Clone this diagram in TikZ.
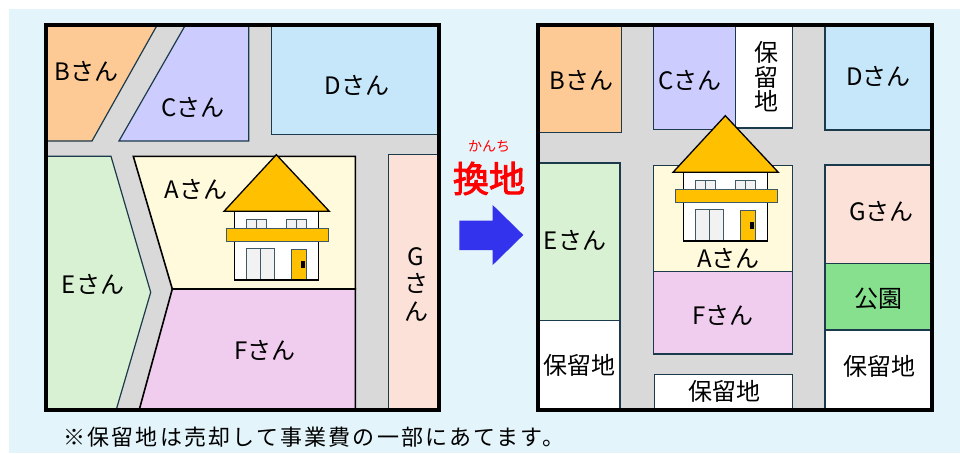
\documentclass[tikz,border=0pt]{standalone}
\usepackage{fontspec}
\setmainfont{Noto Sans CJK JP}
\newfontfamily\heavyjp{Noto Sans CJK JP}[FakeBold=2.5]
\newfontfamily\notejp{Noto Sans CJK JP}[LetterSpace=10]

\definecolor{panel}{HTML}{E3F4FB}
\definecolor{road}{HTML}{D9D9D9}
\definecolor{lotline}{HTML}{1B3A4B}
\definecolor{lotB}{HTML}{FDCA96}
\definecolor{lotC}{HTML}{CCCCFF}
\definecolor{lotD}{HTML}{C6E7F9}
\definecolor{lotE}{HTML}{D9F1D3}
\definecolor{lotA}{HTML}{FFFADC}
\definecolor{lotF}{HTML}{F0CCEE}
\definecolor{lotG}{HTML}{FCE1D8}
\definecolor{park}{HTML}{86E08E}
\definecolor{roof}{HTML}{FFC000}
\definecolor{winfill}{HTML}{F2F2F2}
\definecolor{winline}{HTML}{3F5A66}
\definecolor{arrowblue}{HTML}{3333EE}

\tikzset{
  lot/.style={draw=lotline,line width=1.2pt},
  ownlot/.style={draw=black,line width=1.6pt},
  mapframe/.style={draw=black,line width=4pt},
  lbl/.style={inner sep=0pt,font=\fontsize{24}{26}\selectfont},
  vlbl/.style={lbl,align=center,font=\fontsize{24}{24.5}\selectfont},
  housepart/.style={draw=black,line width=1.3pt},
  winpart/.style={draw=winline,line width=1pt,fill=winfill},
}

% a two-storey house, drawn at an offset
\newcommand\drawhouse[2]{%
  \begin{scope}[shift={(#1,#2)}]
    \filldraw[housepart,fill=white] (234.3,211.3) rectangle (318.7,280);
    \filldraw[housepart,fill=roof] (224,211.3) -- (276.3,154.7) -- (329.3,211.3) -- cycle;
    \filldraw[winpart] (246.7,219.3) rectangle (266.7,229.3);
    \draw[draw=winline,line width=1pt] (256.7,219.3) -- (256.7,229.3);
    \filldraw[winpart] (286.7,219.3) rectangle (306.7,229.3);
    \draw[draw=winline,line width=1pt] (296.7,219.3) -- (296.7,229.3);
    \filldraw[draw=winline,line width=1pt,fill=roof] (226.3,228.7) rectangle (328.7,241.7);
    \filldraw[winpart] (246.7,248.7) rectangle (274,280);
    \draw[draw=winline,line width=1pt] (260.3,248.7) -- (260.3,280);
    \filldraw[draw=winline,line width=1pt,fill=roof] (291.3,249) rectangle (306.3,280);
    \fill[black] (301,260.7) rectangle (305,268.3);
    \draw[housepart,fill=none] (234.3,241.7) -- (234.3,280) -- (318.7,280) -- (318.7,241.7);
  \end{scope}}

\begin{document}
\begin{tikzpicture}[x=1pt,y=-1pt]
\useasboundingbox (0,0) rectangle (960,453);
\fill[panel] (9,9) rectangle (960,453);

% ---------- before: original lots ----------
\fill[road] (45.5,24.5) rectangle (438.5,409.5);
\filldraw[lot,fill=lotB] (45.5,24.5) -- (157.5,24.5) -- (92,141) -- (45.5,141) -- cycle;
\filldraw[lot,fill=lotC] (185.7,24.5) -- (248.7,24.5) -- (248.7,141) -- (119,141) -- cycle;
\filldraw[lot,fill=lotD] (271.7,24.5) rectangle (438.5,134.3);
\filldraw[lot,fill=lotE] (45.5,156.3) -- (111,156.3) -- (150.7,292.3) -- (116.3,409.5) -- (45.5,409.5) -- cycle;
\filldraw[lot,fill=lotG] (388.3,154.7) rectangle (438.5,409.5);
\filldraw[ownlot,fill=lotA] (133.3,156.3) -- (355.3,156.3) -- (355.3,289) -- (172.3,289) -- cycle;
\filldraw[ownlot,fill=lotF] (172.3,289) -- (355.3,289) -- (355.3,409.5) -- (139.3,409.5) -- cycle;
\drawhouse{0}{0}
\draw[mapframe] (45.5,24.5) rectangle (438.5,409.5);

\node[lbl] (bL) at (86.7,71) {Bさん};
\node[lbl] (cL) at (193,107) {Cさん};
\node[lbl] (dL) at (357,85) {Dさん};
\node[lbl] (aL) at (196,189) {Aさん};
\node[lbl] (eL) at (93,284.7) {Eさん};
\node[lbl] (fL) at (265,350) {Fさん};
\node[lbl,align=center,font=\fontsize{24}{27.5}\selectfont] (gL) at (416,284) {G\\さ\\ん};

% ---------- replotting ----------
\node[inner sep=0pt,text=red,font=\fontsize{14}{14}\selectfont] (kana) at (489,146) {かんち};
\node[inner sep=0pt,text=red,font=\heavyjp\fontsize{36}{36}\selectfont] (kanchi) at (489,178.5) {換地};
\fill[arrowblue] (459.3,220.7) -- (492.7,220.7) -- (492.7,205) -- (523.3,235)
  -- (492.7,265) -- (492.7,250) -- (459.3,250) -- cycle;

% ---------- after: new lots ----------
\fill[road] (538,25) rectangle (931.5,409.5);
\filldraw[lot,fill=lotB] (538,25) rectangle (621.7,132.3);
\filldraw[lot,fill=lotC] (653.3,25) rectangle (735.7,129.3);
\filldraw[lot,fill=white] (735.7,25) rectangle (792.7,128);
\filldraw[lot,fill=lotD] (825,25) rectangle (931.5,130);
\filldraw[lot,fill=lotE] (538,163) rectangle (620,320.3);
\filldraw[lot,fill=white] (538,320.3) rectangle (620,409.5);
\filldraw[lot,fill=lotA] (653.3,165.7) rectangle (792.7,271.7);
\filldraw[lot,fill=lotF] (653.3,271.7) rectangle (792.7,354);
\filldraw[lot,fill=white] (654.3,374.3) rectangle (792.7,409.5);
\filldraw[lot,fill=lotG] (825,165) rectangle (931.5,263.3);
\filldraw[lot,fill=park] (825,263.3) rectangle (931.5,330);
\filldraw[lot,fill=white] (825,330) rectangle (931.5,409.5);
\drawhouse{449}{-39}
\draw[mapframe] (538,25) rectangle (931.5,409.5);

\node[lbl] (bR) at (581.7,80) {Bさん};
\node[lbl] (cR) at (690,80) {Cさん};
\node[vlbl] (r1) at (766.7,77) {保\\留\\地};
\node[lbl] (dR) at (878.3,76.7) {Dさん};
\node[lbl] (eR) at (575,240) {Eさん};
\node[lbl] (aR) at (728.3,258) {Aさん};
\node[lbl] (fR) at (723.3,315) {Fさん};
\node[lbl] (gR) at (881.7,211.7) {Gさん};
\node[lbl] (parkR) at (878.3,298.3) {公園};
\node[lbl] (r2) at (579.3,365) {保留地};
\node[lbl] (r3) at (724,391.7) {保留地};
\node[lbl] (r4) at (879.3,366.7) {保留地};

% ---------- footnote ----------
\node[inner sep=0pt,anchor=west,font=\notejp\fontsize{22}{24}\selectfont] (note) at (63,437) {※保留地は売却して事業費の一部にあてます。};
\end{tikzpicture}
\end{document}
